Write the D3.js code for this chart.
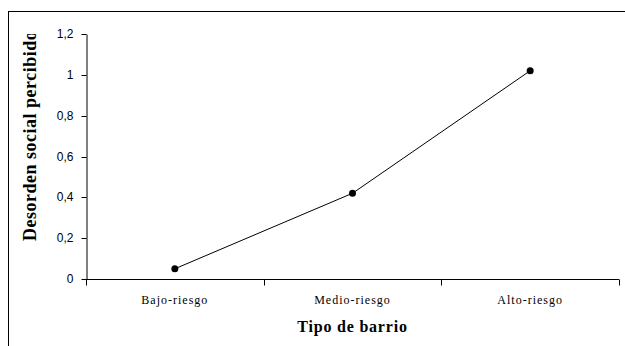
<!DOCTYPE html>
<html><head><meta charset="utf-8">
<script src="https://cdn.jsdelivr.net/npm/d3@7"></script>
<style>body{margin:0;background:#fff}svg{display:block}</style>
</head><body>
<script>
const categories = ["Bajo-riesgo", "Medio-riesgo", "Alto-riesgo"];
const values = [0.05, 0.42, 1.02];
const yTicks = [0, 0.2, 0.4, 0.6, 0.8, 1, 1.2];
const yTickLabels = ["0", "0,2", "0,4", "0,6", "0,8", "1", "1,2"];

const W = 625, H = 346;
const SERIF = "'Liberation Serif', 'Times New Roman', serif";
const SANS = "'Liberation Sans', Arial, sans-serif";
const svg = d3.select("body").append("svg").attr("width", W).attr("height", H);
svg.append("rect").attr("x", 8.5).attr("y", 11.5).attr("width", 640).attr("height", 360)
  .attr("fill", "none").attr("stroke", "#000").attr("stroke-width", 1);

const x0 = 86, x1 = 619, yTop = 34, yBot = 279;
const x = d3.scaleBand().domain(categories).range([x0, x1]).padding(0);
const y = d3.scaleLinear().domain([0, 1.2]).range([yBot, yTop]);

// y axis
const ya = svg.append("g").attr("transform", `translate(${x0 + 0.5},0)`)
  .call(d3.axisLeft(y).tickValues(yTicks).tickSize(5).tickSizeOuter(0)
    .tickFormat((d, i) => yTickLabels[i]));
ya.select(".domain").attr("stroke", "#000");
ya.selectAll("line").attr("stroke", "#000");
ya.selectAll("text").attr("font-family", SANS).attr("font-size", 12)
  .attr("fill", "#000").attr("x", -13);
ya.selectAll(".tick").attr("transform", d => `translate(0,${Math.round(y(d)) + 0.5})`);

// x axis
const xa = svg.append("g").attr("transform", `translate(0,${yBot + 0.5})`);
xa.append("line").attr("x1", x0).attr("x2", x1).attr("stroke", "#000");
const bounds = categories.map(c => x(c)).concat([x1]);
xa.selectAll("line.t").data(bounds).join("line").attr("class", "t")
  .attr("x1", d => Math.round(d) + 0.5).attr("x2", d => Math.round(d) + 0.5)
  .attr("y1", 0).attr("y2", 6).attr("stroke", "#000");
xa.selectAll("text").data(categories).join("text")
  .attr("x", d => x(d) + x.bandwidth() / 2).attr("y", 24)
  .attr("text-anchor", "middle")
  .attr("font-family", SERIF).attr("font-size", 12)
  .attr("letter-spacing", 1)
  .text(d => d);

// line + markers
const cx = c => x(c) + x.bandwidth() / 2;
svg.append("path").datum(values)
  .attr("d", d3.line().x((d, i) => cx(categories[i])).y(d => y(d)))
  .attr("fill", "none").attr("stroke", "#000").attr("stroke-width", 1);
svg.selectAll("circle.pt").data(values).join("circle").attr("class", "pt")
  .attr("cx", (d, i) => cx(categories[i])).attr("cy", d => y(d)).attr("r", 3.5).attr("fill", "#000");

// axis titles
svg.append("text").attr("x", (x0 + x1) / 2).attr("y", 332).attr("text-anchor", "middle")
  .attr("font-family", SERIF).attr("font-size", 16)
  .attr("font-weight", "bold").attr("letter-spacing", 0.8).text("Tipo de barrio");

svg.append("clipPath").attr("id", "yclip").append("rect").attr("x", 0).attr("y", 34).attr("width", 80).attr("height", 300);
svg.append("g").attr("clip-path", "url(#yclip)").append("text")
  .attr("transform", "translate(36,241) rotate(-90)")
  .attr("text-anchor", "start")
  .attr("font-family", SERIF).attr("font-size", 18)
  .attr("letter-spacing", 0.5)
  .attr("font-weight", "bold").text("Desorden social percibido");
</script>
</body></html>
